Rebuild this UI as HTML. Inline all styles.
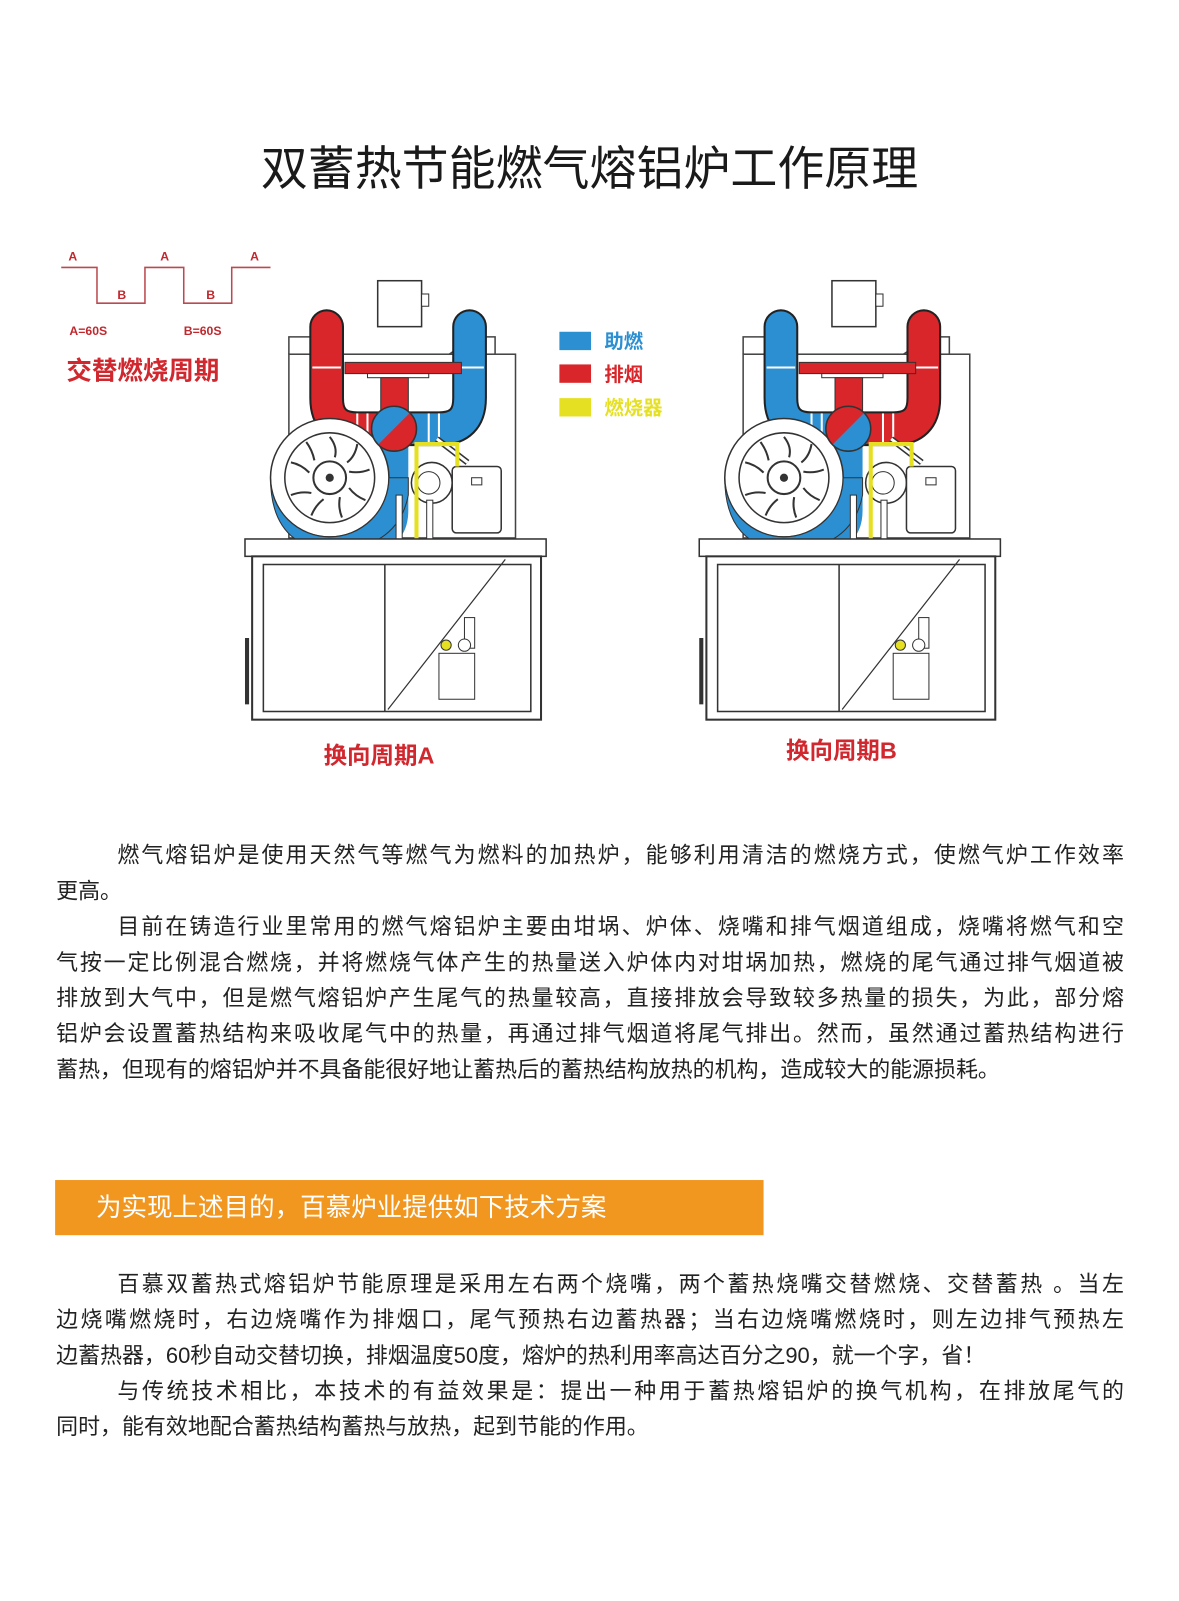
<!DOCTYPE html>
<html><head><meta charset="utf-8"><style>
body{margin:0;background:#fff;width:1179px;height:1600px;position:relative;overflow:hidden;font-family:"Liberation Sans","Noto Sans CJK SC",sans-serif;color:#222}
#w{position:absolute;left:0;top:0;width:1155px;height:1568px;transform:scale(1.0208);transform-origin:0 0}
.t{position:absolute;left:0;width:1155px;text-align:center;top:135px;font-size:46px;line-height:60px;color:#1a1a1a}
.p{position:absolute;left:55px;width:1046px;font-size:21.5px;line-height:35px}
.p div{text-align:justify;text-align-last:justify;height:35px;white-space:nowrap}
.p div.l{text-align-last:left}
.ban{position:absolute;left:54px;top:1156px;width:694px;height:54px;background:#f1961e;color:#fff;font-size:25px;line-height:54px}
.ban span{position:absolute;left:40px}
</style></head><body><div id="w">
<svg width="1155" height="800" style="position:absolute;left:0;top:0" font-family="Liberation Sans,Noto Sans CJK SC,sans-serif">
<defs>
<g id="m">
 <rect x="130" y="0" width="43" height="45" fill="#fff" stroke="#333" stroke-width="1.5"/>
 <rect x="173" y="13" width="7" height="12" fill="#fff" stroke="#333"/>
 <path d="M43 72 L245 72 L245 55 L225 55 L200 72 M43 72 L43 55 L65 55 L90 72" fill="none" stroke="#444" stroke-width="1.5"/>
 <rect x="43" y="72" width="222" height="180" fill="#fff" stroke="#444" stroke-width="1.5"/>
 <path d="M80 45 L80 115 Q80 145 110 145 L145 145" fill="none" stroke="#222" stroke-width="34" stroke-linecap="round"/>
 <path d="M80 45 L80 115 Q80 145 110 145 L145 145" fill="none" stroke="var(--L)" stroke-width="30" stroke-linecap="round"/>
 <path d="M220 45 L220 115 Q220 145 190 145 L155 145" fill="none" stroke="#222" stroke-width="34" stroke-linecap="round"/>
 <path d="M220 45 L220 115 Q220 145 190 145 L155 145" fill="none" stroke="var(--R)" stroke-width="30" stroke-linecap="round"/>
 <g stroke="#fff" stroke-width="2"><line x1="66" y1="85" x2="94" y2="85"/><line x1="206" y1="85" x2="234" y2="85"/><line x1="110" y1="130" x2="110" y2="160"/><line x1="120" y1="130" x2="120" y2="160"/><line x1="180" y1="130" x2="180" y2="160"/><line x1="190" y1="130" x2="190" y2="160"/></g>
 <rect x="98" y="80" width="114" height="11" fill="#d8262a" stroke="#333"/>
 <rect x="120" y="91" width="60" height="4" fill="#fff" stroke="#333"/>
 <rect x="133" y="95" width="27" height="35" fill="#d8262a" stroke="#333"/>
 <path d="M133 162 L160 162 L160 225 Q160 270 100 268 L60 250 Z" fill="#2b8fd1"/>
 <circle cx="83" cy="193" r="58" fill="#fff" stroke="#333" stroke-width="1.5"/>
 <path d="M25 193 A58 58 0 0 0 141 193 L160 193 L160 210 Q150 262 85 265 Q25 260 25 193Z" fill="#2b8fd1" stroke="#333"/>
 <circle cx="83" cy="193" r="44" fill="#fff" stroke="#333" stroke-width="1.5"/>
 <g stroke="#333" stroke-width="2" fill="none">
  <path d="M83 153 q8 10 5 20"/><path d="M110 160 q-2 12 -10 18"/><path d="M122 185 q-10 4 -20 2"/><path d="M118 215 q-10 -4 -16 -12"/><path d="M95 232 q-4 -10 -2 -20"/><path d="M65 230 q4 -10 12 -16"/><path d="M45 210 q10 -4 20 -2"/><path d="M45 178 q10 2 18 10"/><path d="M60 158 q6 8 8 18"/>
 </g>
 <circle cx="83" cy="193" r="16" fill="#fff" stroke="#333" stroke-width="2"/><circle cx="83" cy="193" r="4" fill="#333"/>
 <circle cx="146" cy="145" r="22" fill="var(--R)"/>
 <path d="M130 161 A22 22 0 0 0 162 129 Z" fill="var(--L)"/>
 <circle cx="146" cy="145" r="22" fill="none" stroke="#333" stroke-width="1.5"/>
 <circle cx="183" cy="198" r="20" fill="#fff" stroke="#333" stroke-width="1.5"/><circle cx="180" cy="198" r="11" fill="#fff" stroke="#333"/>
 <rect x="203" y="182" width="48" height="65" rx="4" fill="#fff" stroke="#333" stroke-width="1.5"/>
 <rect x="222" y="193" width="10" height="7" fill="#fff" stroke="#333"/>
 <path d="M188 155 L218 178" stroke="#333" stroke-width="6"/><path d="M188 155 L218 178" stroke="#fff" stroke-width="3"/>
 <path d="M168 275 L168 160 L208 160 L208 182" fill="none" stroke="#e6e022" stroke-width="4"/>
 <rect x="178" y="215" width="6" height="60" fill="#fff" stroke="#333"/>
 <rect x="148" y="210" width="6" height="65" fill="#fff" stroke="#333"/>
 <rect x="0" y="253" width="295" height="17" fill="#fff" stroke="#333" stroke-width="1.5"/>
 <rect x="7" y="270" width="283" height="160" fill="#fff" stroke="#333" stroke-width="2"/>
 <rect x="18" y="278" width="262" height="144" fill="#fff" stroke="#333" stroke-width="1.5"/>
 <line x1="137" y1="278" x2="137" y2="422" stroke="#333" stroke-width="1.5"/>
 <line x1="255" y1="273" x2="140" y2="420" stroke="#333" stroke-width="1.2"/>
 <rect x="0" y="350" width="4" height="65" fill="#333"/>
 <rect x="215" y="330" width="10" height="30" fill="#fff" stroke="#333"/>
 <rect x="190" y="365" width="35" height="45" fill="#fff" stroke="#333"/>
 <circle cx="197" cy="357" r="5" fill="#e6e022" stroke="#333"/>
 <circle cx="215" cy="357" r="6" fill="#fff" stroke="#333"/>
</g>
</defs>
<g transform="translate(240,275)" style="--L:#d8262a;--R:#2b8fd1"><use href="#m"/></g>
<g transform="translate(685,275)" style="--L:#2b8fd1;--R:#d8262a"><use href="#m"/></g>
<path d="M60 262 L95 262 L95 297 L142 297 L142 262 L180 262 L180 297 L227 297 L227 262 L265 262" fill="none" stroke="#b94a50" stroke-width="1.5"/>
<g fill="#c0282e" font-size="12" font-weight="bold"><text x="67" y="255">A</text><text x="157" y="255">A</text><text x="245" y="255">A</text><text x="115" y="293">B</text><text x="202" y="293">B</text><text x="68" y="328">A=60S</text><text x="180" y="328">B=60S</text></g>
<text x="65" y="372" fill="#d0282e" font-size="25" font-weight="bold">交替燃烧周期</text>
<rect x="548" y="325" width="31" height="18" fill="#2b8fd1"/><text x="592" y="341" font-size="19" fill="#2b8fd1" font-weight="bold">助燃</text>
<rect x="548" y="357" width="31" height="18" fill="#d8262a"/><text x="592" y="373" font-size="19" fill="#d8262a" font-weight="bold">排烟</text>
<rect x="548" y="390" width="31" height="18" fill="#e6e022"/><text x="592" y="406" font-size="19" fill="#e6e022" font-weight="bold">燃烧器</text>
<text x="317" y="748" fill="#d0282e" font-size="23" font-weight="bold">换向周期A</text>
<text x="770" y="743" fill="#d0282e" font-size="23" font-weight="bold">换向周期B</text>
</svg>
<div class="t">双蓄热节能燃气熔铝炉工作原理</div>
<div class="p" style="top:821px">
<div style="padding-left:60px">燃气熔铝炉是使用天然气等燃气为燃料的加热炉，能够利用清洁的燃烧方式，使燃气炉工作效率</div>
<div class="l">更高。</div>
<div style="padding-left:60px">目前在铸造行业里常用的燃气熔铝炉主要由坩埚、炉体、烧嘴和排气烟道组成，烧嘴将燃气和空</div>
<div>气按一定比例混合燃烧，并将燃烧气体产生的热量送入炉体内对坩埚加热，燃烧的尾气通过排气烟道被</div>
<div>排放到大气中，但是燃气熔铝炉产生尾气的热量较高，直接排放会导致较多热量的损失，为此，部分熔</div>
<div>铝炉会设置蓄热结构来吸收尾气中的热量，再通过排气烟道将尾气排出。然而，虽然通过蓄热结构进行</div>
<div class="l">蓄热，但现有的熔铝炉并不具备能很好地让蓄热后的蓄热结构放热的机构，造成较大的能源损耗。</div>
</div>
<div class="ban"><span>为实现上述目的，百慕炉业提供如下技术方案</span></div>
<div class="p" style="top:1241px">
<div style="padding-left:60px">百慕双蓄热式熔铝炉节能原理是采用左右两个烧嘴，两个蓄热烧嘴交替燃烧、交替蓄热 。当左</div>
<div>边烧嘴燃烧时，右边烧嘴作为排烟口，尾气预热右边蓄热器；当右边烧嘴燃烧时，则左边排气预热左</div>
<div class="l">边蓄热器，60秒自动交替切换，排烟温度50度，熔炉的热利用率高达百分之90，就一个字，省！</div>
<div style="padding-left:60px">与传统技术相比，本技术的有益效果是：提出一种用于蓄热熔铝炉的换气机构，在排放尾气的</div>
<div class="l">同时，能有效地配合蓄热结构蓄热与放热，起到节能的作用。</div>
</div>
</div></body></html>
